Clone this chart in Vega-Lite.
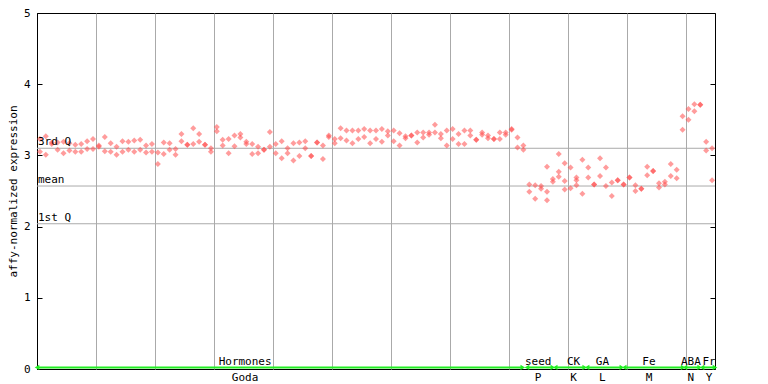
{
  "$schema": "https://vega.github.io/schema/vega-lite/v6.json",
  "width": 678,
  "height": 356,
  "autosize": "none",
  "padding": {"left": 37, "top": 13, "right": 53, "bottom": 15},
  "background": "white",
  "config": {
    "view": {"stroke": "#000", "strokeWidth": 1},
    "font": "DejaVu Sans Mono",
    "axis": {"labelFont": "DejaVu Sans Mono", "labelFontSize": 11, "labelColor": "#000", "tickColor": "#000", "domainColor": "#000", "titleFont": "DejaVu Sans Mono", "titleFontSize": 11, "titleFontWeight": "normal", "titleColor": "#000"}
  },
  "resolve": {"axis": {"y": "independent", "x": "independent"}},
  "datasets": {
    "pts": [
      {"x":0.5,"v":3.23},{"x":0.5,"v":3.05},{"x":1.5,"v":3.27},{"x":1.5,"v":3.01},{"x":2.5,"v":3.18},{"x":2.5,"v":3.16},
      {"x":3.5,"v":3.18},{"x":3.5,"v":3.08},{"x":4.5,"v":3.19},{"x":4.5,"v":3.03},{"x":5.5,"v":3.17},{"x":5.5,"v":3.07},
      {"x":6.5,"v":3.15},{"x":6.5,"v":3.05},{"x":7.5,"v":3.16},{"x":7.5,"v":3.05},{"x":8.5,"v":3.20},{"x":8.5,"v":3.09},
      {"x":9.5,"v":3.23},{"x":9.5,"v":3.09},{"x":10.5,"v":3.14},{"x":10.5,"v":3.12},{"x":11.5,"v":3.26},{"x":11.5,"v":3.06},
      {"x":12.5,"v":3.17},{"x":12.5,"v":3.05},{"x":13.5,"v":3.12},{"x":13.5,"v":3.01},{"x":14.5,"v":3.20},{"x":14.5,"v":3.05},
      {"x":15.5,"v":3.19},{"x":15.5,"v":3.08},{"x":16.5,"v":3.21},{"x":16.5,"v":3.05},{"x":17.5,"v":3.22},{"x":17.5,"v":3.08},
      {"x":18.5,"v":3.14},{"x":18.5,"v":3.04},{"x":19.5,"v":3.16},{"x":19.5,"v":3.05},{"x":20.5,"v":3.04},{"x":20.5,"v":2.88},
      {"x":21.5,"v":3.18},{"x":21.5,"v":3.02},{"x":22.5,"v":3.17},{"x":22.5,"v":3.08},{"x":23.5,"v":3.09},{"x":23.5,"v":3.01},
      {"x":24.5,"v":3.30},{"x":24.5,"v":3.20},{"x":25.5,"v":3.15},{"x":25.5,"v":3.15},{"x":26.5,"v":3.38},{"x":26.5,"v":3.16},
      {"x":27.5,"v":3.30},{"x":27.5,"v":3.19},{"x":28.5,"v":3.15},{"x":28.5,"v":3.15},{"x":29.5,"v":3.10},{"x":29.5,"v":3.05},
      {"x":30.5,"v":3.40},{"x":30.5,"v":3.34},{"x":31.5,"v":3.22},{"x":31.5,"v":3.14},{"x":32.5,"v":3.23},{"x":32.5,"v":3.03},
      {"x":33.5,"v":3.28},{"x":33.5,"v":3.13},{"x":34.5,"v":3.30},{"x":34.5,"v":3.25},{"x":35.5,"v":3.19},{"x":35.5,"v":3.16},
      {"x":36.5,"v":3.16},{"x":36.5,"v":3.02},{"x":37.5,"v":3.12},{"x":37.5,"v":3.03},{"x":38.5,"v":3.08},{"x":38.5,"v":3.08},
      {"x":39.5,"v":3.33},{"x":39.5,"v":3.12},{"x":40.5,"v":3.16},{"x":40.5,"v":3.03},{"x":41.5,"v":3.20},{"x":41.5,"v":2.96},
      {"x":42.5,"v":3.10},{"x":42.5,"v":3.03},{"x":43.5,"v":3.17},{"x":43.5,"v":2.93},{"x":44.5,"v":3.18},{"x":44.5,"v":2.99},
      {"x":45.5,"v":3.20},{"x":45.5,"v":3.10},{"x":46.5,"v":2.99},{"x":46.5,"v":2.99},{"x":47.5,"v":3.18},{"x":47.5,"v":3.18},
      {"x":48.5,"v":3.14},{"x":48.5,"v":2.95},{"x":49.5,"v":3.28},{"x":49.5,"v":3.26},{"x":50.5,"v":3.23},{"x":50.5,"v":3.17},
      {"x":51.5,"v":3.38},{"x":51.5,"v":3.24},{"x":52.5,"v":3.35},{"x":52.5,"v":3.21},{"x":53.5,"v":3.35},{"x":53.5,"v":3.17},
      {"x":54.5,"v":3.35},{"x":54.5,"v":3.23},{"x":55.5,"v":3.37},{"x":55.5,"v":3.26},{"x":56.5,"v":3.35},{"x":56.5,"v":3.17},
      {"x":57.5,"v":3.35},{"x":57.5,"v":3.23},{"x":58.5,"v":3.37},{"x":58.5,"v":3.19},{"x":59.5,"v":3.34},{"x":59.5,"v":3.28},
      {"x":60.5,"v":3.35},{"x":60.5,"v":3.20},{"x":61.5,"v":3.31},{"x":61.5,"v":3.14},{"x":62.5,"v":3.27},{"x":62.5,"v":3.24},
      {"x":63.5,"v":3.28},{"x":63.5,"v":3.28},{"x":64.5,"v":3.32},{"x":64.5,"v":3.18},{"x":65.5,"v":3.32},{"x":65.5,"v":3.25},
      {"x":66.5,"v":3.32},{"x":66.5,"v":3.29},{"x":67.5,"v":3.43},{"x":67.5,"v":3.32},{"x":68.5,"v":3.30},{"x":68.5,"v":3.24},
      {"x":69.5,"v":3.35},{"x":69.5,"v":3.14},{"x":70.5,"v":3.37},{"x":70.5,"v":3.23},{"x":71.5,"v":3.30},{"x":71.5,"v":3.16},
      {"x":72.5,"v":3.35},{"x":72.5,"v":3.16},{"x":73.5,"v":3.35},{"x":73.5,"v":3.28},{"x":74.5,"v":3.22},{"x":74.5,"v":3.22},
      {"x":75.5,"v":3.32},{"x":75.5,"v":3.29},{"x":76.5,"v":3.28},{"x":76.5,"v":3.24},{"x":77.5,"v":3.23},{"x":77.5,"v":3.23},
      {"x":78.5,"v":3.32},{"x":78.5,"v":3.23},{"x":79.5,"v":3.32},{"x":79.5,"v":3.29},{"x":80.5,"v":3.37},{"x":80.5,"v":3.36},
      {"x":81.5,"v":3.25},{"x":81.5,"v":3.11},{"x":82.5,"v":3.14},{"x":82.5,"v":3.08},{"x":83.5,"v":2.59},{"x":83.5,"v":2.49},
      {"x":84.5,"v":2.58},{"x":84.5,"v":2.39},{"x":85.5,"v":2.57},{"x":85.5,"v":2.53},{"x":86.5,"v":2.84},{"x":86.5,"v":2.49},{"x":86.5,"v":2.37},
      {"x":87.5,"v":2.67},{"x":87.5,"v":2.63},{"x":88.5,"v":3.02},{"x":88.5,"v":2.77},{"x":88.5,"v":2.70},
      {"x":89.5,"v":2.89},{"x":89.5,"v":2.64},{"x":89.5,"v":2.52},{"x":90.5,"v":2.83},{"x":90.5,"v":2.54},
      {"x":91.5,"v":2.69},{"x":91.5,"v":2.65},{"x":91.5,"v":2.58},{"x":92.5,"v":2.94},{"x":92.5,"v":2.46},
      {"x":93.5,"v":2.83},{"x":93.5,"v":2.69},{"x":94.5,"v":2.59},{"x":94.5,"v":2.59},{"x":95.5,"v":2.96},{"x":95.5,"v":2.71},
      {"x":96.5,"v":2.83},{"x":96.5,"v":2.57},{"x":97.5,"v":2.62},{"x":97.5,"v":2.43},{"x":98.5,"v":2.65},{"x":98.5,"v":2.65},
      {"x":99.5,"v":2.59},{"x":99.5,"v":2.59},{"x":100.5,"v":2.69},{"x":100.5,"v":2.69},{"x":101.5,"v":2.58},{"x":101.5,"v":2.50},
      {"x":102.5,"v":2.53},{"x":102.5,"v":2.53},{"x":103.5,"v":2.84},{"x":103.5,"v":2.72},{"x":104.5,"v":2.78},{"x":104.5,"v":2.78},
      {"x":105.5,"v":2.61},{"x":105.5,"v":2.55},{"x":106.5,"v":2.63},{"x":106.5,"v":2.59},{"x":107.5,"v":2.88},{"x":107.5,"v":2.71},
      {"x":108.5,"v":2.80},{"x":108.5,"v":2.68},{"x":109.5,"v":3.55},{"x":109.5,"v":3.36},{"x":110.5,"v":3.65},{"x":110.5,"v":3.50},
      {"x":111.5,"v":3.72},{"x":111.5,"v":3.62},{"x":112.5,"v":3.71},{"x":112.5,"v":3.71},{"x":113.5,"v":3.19},{"x":113.5,"v":3.07},
      {"x":114.5,"v":3.10},{"x":114.5,"v":2.65}
    ],
    "quart": [
      {"q": 3.10, "label": "3rd Q"},
      {"q": 2.57, "label": "mean"},
      {"q": 2.04, "label": "1st Q"}
    ],
    "segs": [
      {"a": 0.0, "b": 82.4, "top": "Hormones", "bot": "Goda", "c": 35.3},
      {"a": 83.1, "b": 87.5, "top": "seed", "bot": "P", "c": 85.0},
      {"a": 87.9, "b": 92.9, "top": "CK", "bot": "K", "c": 91.0},
      {"a": 93.3, "b": 99.2, "top": "GA", "bot": "L", "c": 95.9},
      {"a": 99.6, "b": 109.6, "top": "Fe", "bot": "M", "c": 103.8},
      {"a": 109.9, "b": 112.4, "top": "ABA", "bot": "N", "c": 110.9},
      {"a": 112.8, "b": 115.0, "top": "Fr", "bot": "Y", "c": 114.0}
    ]
  },
  "layer": [
    {
      "data": {"name": "quart"},
      "mark": {"type": "rule", "color": "#aaaaaa", "strokeWidth": 1},
      "encoding": {
        "y": {"field": "q", "type": "quantitative", "scale": {"domain": [0, 5], "nice": false, "zero": true},
              "axis": {"orient": "right", "values": [0, 1, 2, 3, 4, 5], "labels": false, "tickSize": -5, "domain": false, "grid": false, "title": null}}
      }
    },
    {
      "data": {"name": "pts"},
      "mark": {"type": "point", "shape": "diamond", "filled": true, "size": 36, "color": "#ff4a4a", "opacity": 0.55},
      "encoding": {
        "x": {"field": "x", "type": "quantitative", "scale": {"domain": [0, 115], "nice": false, "zero": false},
              "axis": {"values": [10, 20, 30, 40, 50, 60, 70, 80, 90, 100, 110], "grid": true, "gridColor": "#aaaaaa", "gridOpacity": 1, "gridWidth": 1, "labels": false, "ticks": false, "domain": false, "title": null}},
        "y": {"field": "v", "type": "quantitative", "scale": {"domain": [0, 5], "nice": false, "zero": true},
              "axis": {"orient": "left", "values": [0, 1, 2, 3, 4, 5], "format": "d", "grid": false, "tickSize": -5, "labelPadding": 12, "domain": true, "title": "affy-normalized expression", "titlePadding": 5}}
      }
    },
    {
      "data": {"name": "quart"},
      "mark": {"type": "text", "align": "left", "baseline": "bottom", "dx": 1, "dy": -1, "fontSize": 11, "font": "DejaVu Sans Mono", "color": "#000"},
      "encoding": {
        "x": {"datum": 0, "type": "quantitative", "axis": null},
        "y": {"field": "q", "type": "quantitative", "axis": null},
        "text": {"field": "label"}
      }
    },
    {
      "data": {"name": "segs"},
      "mark": {"type": "rule", "color": "#22ee22", "strokeWidth": 2},
      "encoding": {
        "x": {"field": "a", "type": "quantitative", "axis": null},
        "x2": {"field": "b"},
        "y": {"datum": 0.022, "type": "quantitative", "axis": null}
      }
    },
    {
      "data": {"name": "segs"},
      "mark": {"type": "point", "shape": "triangle-left", "filled": true, "size": 28, "color": "#22ee22", "opacity": 1, "dx": 3},
      "encoding": {
        "x": {"field": "a", "type": "quantitative", "axis": null},
        "y": {"datum": 0.022, "type": "quantitative", "axis": null}
      }
    },
    {
      "data": {"name": "segs"},
      "mark": {"type": "point", "shape": "triangle-right", "filled": true, "size": 28, "color": "#22ee22", "opacity": 1, "dx": -3},
      "encoding": {
        "x": {"field": "b", "type": "quantitative", "axis": null},
        "y": {"datum": 0.022, "type": "quantitative", "axis": null}
      }
    },
    {
      "data": {"name": "segs"},
      "mark": {"type": "text", "baseline": "bottom", "dy": -2, "fontSize": 11, "font": "DejaVu Sans Mono", "color": "#000"},
      "encoding": {
        "x": {"field": "c", "type": "quantitative", "axis": null},
        "y": {"datum": 0, "type": "quantitative", "axis": null},
        "text": {"field": "top"}
      }
    },
    {
      "data": {"name": "segs"},
      "mark": {"type": "text", "baseline": "top", "dy": 3, "fontSize": 11, "font": "DejaVu Sans Mono", "color": "#000"},
      "encoding": {
        "x": {"field": "c", "type": "quantitative", "axis": null},
        "y": {"datum": 0, "type": "quantitative", "axis": null},
        "text": {"field": "bot"}
      }
    }
  ]
}
